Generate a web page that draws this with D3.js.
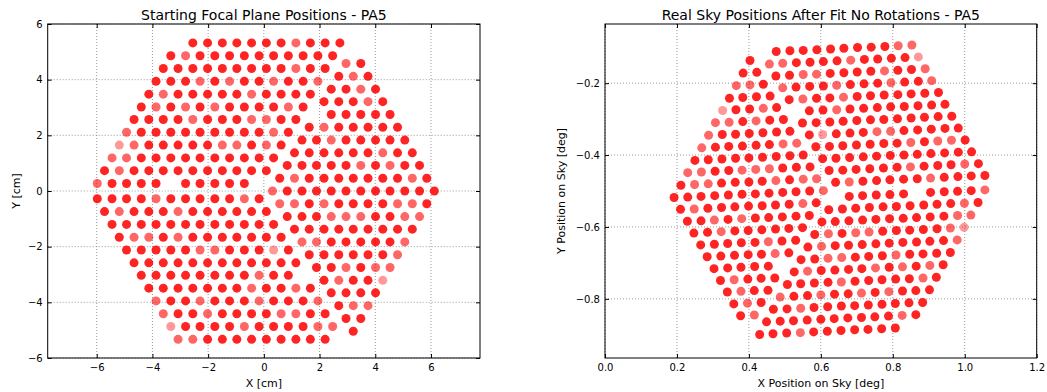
<!DOCTYPE html>
<html>
<head>
<meta charset="utf-8">
<script src="https://cdn.jsdelivr.net/npm/d3@7"></script>
<style>
  body { margin: 0; background: #fff; }
  svg text { font-family: "DejaVu Sans", sans-serif; fill: #000; }
</style>
</head>
<body>
<svg id="chart" width="1047" height="392"></svg>
<script>
// Fibre rows: upper-left block, lower-left block, right block (focal plane, cm)
const focalRowY = [
  5.32, 4.86, 4.40, 3.94, 3.48, 3.02, 2.57, 2.11, 1.65, 1.19, 0.73, 0.27,
  -0.28, -0.74, -1.20, -1.66, -2.12, -2.58, -3.03, -3.49, -3.95, -4.41, -4.87, -5.33,
  4.58, 4.12, 3.66, 3.21, 2.75, 2.29, 1.83, 1.37, 0.92, 0.46, 0.00,
  -0.46, -0.92, -1.37, -1.83, -2.29, -2.75, -3.21, -3.66, -4.12, -4.58, -5.04
];

const focalRowX = [
  [-2.55,-2.02,-1.49,-0.97,-0.44,0.09,0.62,1.15,1.67,2.20,2.73],
  [-3.34,-2.81,-2.29,-1.76,-1.23,-0.70,-0.17,0.35,0.88,1.41,1.94,2.47],
  [-3.61,-3.08,-2.55,-2.02,-1.49,-0.97,-0.44,0.09,0.62,1.15,1.67,2.20],
  [-3.87,-3.34,-2.81,-2.29,-1.76,-1.23,-0.70,-0.17,0.35,0.88,1.41,1.94],
  [-4.13,-3.61,-3.08,-2.55,-2.02,-1.49,-0.97,-0.44,0.09,0.62,1.15,1.67],
  [-4.40,-3.87,-3.34,-2.81,-2.29,-1.76,-1.23,-0.70,-0.17,0.35,0.88,1.41],
  [-4.66,-4.13,-3.61,-3.08,-2.55,-2.02,-1.49,-0.97,-0.44,0.09,0.62,1.15],
  [-4.93,-4.40,-3.87,-3.34,-2.81,-2.29,-1.76,-1.23,-0.70,-0.17,0.35,0.88],
  [-5.19,-4.66,-4.13,-3.61,-3.08,-2.55,-2.02,-1.49,-0.97,-0.44,0.09,0.62],
  [-5.45,-4.93,-4.40,-3.87,-3.34,-2.81,-2.29,-1.76,-1.23,-0.70,-0.17,0.35],
  [-5.72,-5.19,-4.66,-4.13,-3.61,-3.08,-2.55,-2.02,-1.49,-0.97,-0.44,0.09],
  [-5.98,-5.45,-4.93,-4.40,-3.87,-2.81,-2.29,-1.76,-1.23,-0.70],
  [-5.98,-5.45,-4.93,-4.40,-3.87,-3.34,-2.81,-2.29,-1.76,-1.23,-0.70,-0.17],
  [-5.72,-5.19,-4.66,-4.13,-3.61,-3.08,-2.55,-2.02,-1.49,-0.97,-0.44,0.09],
  [-5.45,-4.93,-4.40,-3.87,-3.34,-2.81,-2.29,-1.76,-1.23,-0.70,-0.17,0.35],
  [-5.19,-4.66,-4.13,-3.61,-3.08,-2.55,-2.02,-1.49,-0.97,-0.44,0.09,0.62],
  [-4.93,-4.40,-3.87,-3.34,-2.81,-2.29,-1.76,-1.23,-0.70,-0.17,0.35,0.88],
  [-4.66,-4.13,-3.61,-3.08,-2.55,-2.02,-1.49,-0.97,-0.44,0.09,0.62,1.15],
  [-4.40,-3.87,-3.34,-2.81,-2.29,-1.76,-1.23,-0.70,-0.17,0.35,0.88],
  [-4.13,-3.61,-3.08,-2.55,-2.02,-1.49,-0.97,-0.44,0.09,0.62,1.15,1.67],
  [-3.87,-3.34,-2.81,-2.29,-1.76,-1.23,-0.70,-0.17,0.35,0.88,1.41,1.94],
  [-3.61,-3.08,-2.55,-2.02,-1.49,-0.97,-0.44,0.09,0.62,1.15,1.67,2.20],
  [-3.34,-2.81,-2.29,-1.76,-1.23,-0.70,-0.17,0.35,0.88,1.41,1.94,2.47],
  [-3.08,-2.55,-2.02,-1.49,-0.97,-0.44,0.09,0.62,1.15,1.67,2.20],
  [2.95,3.48],
  [2.69,3.21,3.74],
  [2.42,2.95,3.48,4.01],
  [2.16,2.69,3.21,3.74,4.27],
  [2.42,2.95,3.48,4.01,4.53],
  [1.63,2.16,2.69,3.21,3.74,4.27,4.80],
  [1.37,1.89,2.42,2.95,3.48,4.01,4.53,5.06],
  [1.10,1.63,2.16,2.69,3.21,3.74,4.27,4.80,5.33],
  [0.84,1.37,1.89,2.42,2.95,3.48,4.01,4.53,5.06,5.59],
  [0.57,1.10,1.63,2.16,2.69,3.21,3.74,4.27,4.80,5.33,5.85],
  [0.31,0.84,1.37,1.89,2.42,2.95,3.48,4.01,4.53,5.06,5.59,6.12],
  [0.57,1.10,1.63,2.16,2.69,3.21,3.74,4.27,4.80,5.33,5.85],
  [0.84,1.37,1.89,2.42,2.95,3.48,4.01,4.53,5.06,5.59],
  [1.10,1.63,2.16,2.69,3.21,3.74,4.27,4.80,5.33],
  [1.37,1.89,2.42,2.95,3.48,4.01,4.53,5.06],
  [1.63,2.16,2.69,3.21,3.74,4.27,4.80],
  [1.89,2.42,2.95,3.48,4.01,4.53],
  [2.16,2.69,3.21,3.74,4.27],
  [2.42,2.95,3.48,4.01],
  [2.69,3.21,3.74],
  [2.95,3.48],
  [3.21]
];

// Same fibres on the sky (deg), row for row
const skyRowX = [
  [0.807,0.769,0.731,0.694,0.656,0.618,0.580,0.543,0.505,0.467,0.430],
  [0.864,0.826,0.788,0.750,0.713,0.675,0.637,0.600,0.562,0.524,0.487,0.449],
  [0.883,0.845,0.807,0.770,0.732,0.694,0.657,0.619,0.581,0.544,0.506,0.468],
  [0.902,0.864,0.827,0.789,0.751,0.713,0.676,0.638,0.600,0.563,0.525,0.487],
  [0.921,0.884,0.846,0.808,0.770,0.733,0.695,0.657,0.620,0.582,0.544,0.507],
  [0.940,0.903,0.865,0.827,0.790,0.752,0.714,0.677,0.639,0.601,0.563,0.526],
  [0.960,0.922,0.884,0.847,0.809,0.771,0.733,0.696,0.658,0.620,0.583,0.545],
  [0.979,0.941,0.903,0.866,0.828,0.790,0.753,0.715,0.677,0.640,0.602,0.564],
  [0.998,0.960,0.923,0.885,0.847,0.810,0.772,0.734,0.697,0.659,0.621,0.583],
  [1.017,0.980,0.942,0.904,0.866,0.829,0.791,0.753,0.716,0.678,0.640,0.603],
  [1.037,0.999,0.961,0.923,0.886,0.848,0.810,0.773,0.735,0.697,0.660,0.622],
  [1.056,1.018,0.980,0.943,0.905,0.830,0.792,0.754,0.716,0.679],
  [1.056,1.018,0.981,0.943,0.905,0.868,0.830,0.792,0.755,0.717,0.679,0.641],
  [1.038,1.000,0.962,0.925,0.887,0.849,0.812,0.774,0.736,0.698,0.661,0.623],
  [1.019,0.982,0.944,0.906,0.868,0.831,0.793,0.755,0.718,0.680,0.642,0.605],
  [1.001,0.963,0.925,0.888,0.850,0.812,0.775,0.737,0.699,0.661,0.624,0.586],
  [0.982,0.945,0.907,0.869,0.831,0.794,0.756,0.718,0.681,0.643,0.605,0.568],
  [0.964,0.926,0.888,0.851,0.813,0.775,0.738,0.700,0.662,0.625,0.587,0.549],
  [0.945,0.908,0.870,0.832,0.794,0.757,0.719,0.681,0.644,0.606,0.568],
  [0.927,0.889,0.851,0.814,0.776,0.738,0.701,0.663,0.625,0.588,0.550,0.512],
  [0.908,0.871,0.833,0.795,0.758,0.720,0.682,0.644,0.607,0.569,0.531,0.494],
  [0.890,0.852,0.814,0.777,0.739,0.701,0.664,0.626,0.588,0.551,0.513,0.475],
  [0.871,0.834,0.796,0.758,0.721,0.683,0.645,0.607,0.570,0.532,0.494,0.457],
  [0.853,0.815,0.778,0.740,0.702,0.664,0.627,0.589,0.551,0.514,0.476],
  [0.415,0.377],
  [0.434,0.396,0.358],
  [0.453,0.415,0.378,0.340],
  [0.472,0.434,0.397,0.359,0.321],
  [0.454,0.416,0.378,0.341,0.303],
  [0.511,0.473,0.435,0.398,0.360,0.322,0.284],
  [0.530,0.492,0.454,0.417,0.379,0.341,0.304,0.266],
  [0.549,0.511,0.474,0.436,0.398,0.361,0.323,0.285,0.247],
  [0.568,0.531,0.493,0.455,0.418,0.380,0.342,0.304,0.267,0.229],
  [0.587,0.550,0.512,0.474,0.437,0.399,0.361,0.324,0.286,0.248,0.210],
  [0.607,0.569,0.531,0.494,0.456,0.418,0.381,0.343,0.305,0.267,0.230,0.192],
  [0.588,0.551,0.513,0.475,0.437,0.400,0.362,0.324,0.287,0.249,0.211],
  [0.570,0.532,0.494,0.457,0.419,0.381,0.344,0.306,0.268,0.230],
  [0.551,0.514,0.476,0.438,0.400,0.363,0.325,0.287,0.250],
  [0.533,0.495,0.457,0.420,0.382,0.344,0.307,0.269],
  [0.514,0.477,0.439,0.401,0.363,0.326,0.288],
  [0.496,0.458,0.420,0.383,0.345,0.307],
  [0.477,0.440,0.402,0.364,0.327],
  [0.459,0.421,0.383,0.346],
  [0.440,0.403,0.365],
  [0.422,0.384],
  [0.403]
];

const skyRowY = [
  [-0.881,-0.883,-0.885,-0.886,-0.888,-0.890,-0.892,-0.894,-0.895,-0.897,-0.899],
  [-0.844,-0.846,-0.848,-0.850,-0.852,-0.853,-0.855,-0.857,-0.859,-0.861,-0.862,-0.864],
  [-0.810,-0.811,-0.813,-0.815,-0.817,-0.819,-0.820,-0.822,-0.824,-0.826,-0.828,-0.829],
  [-0.775,-0.777,-0.778,-0.780,-0.782,-0.784,-0.786,-0.787,-0.789,-0.791,-0.793,-0.795],
  [-0.740,-0.742,-0.744,-0.745,-0.747,-0.749,-0.751,-0.753,-0.754,-0.756,-0.758,-0.760],
  [-0.705,-0.707,-0.709,-0.711,-0.712,-0.714,-0.716,-0.718,-0.720,-0.721,-0.723,-0.725],
  [-0.671,-0.673,-0.675,-0.676,-0.678,-0.680,-0.682,-0.684,-0.685,-0.687,-0.689,-0.691],
  [-0.636,-0.638,-0.640,-0.642,-0.643,-0.645,-0.647,-0.649,-0.651,-0.652,-0.654,-0.656],
  [-0.601,-0.603,-0.605,-0.607,-0.609,-0.610,-0.612,-0.614,-0.616,-0.618,-0.619,-0.621],
  [-0.567,-0.568,-0.570,-0.572,-0.574,-0.576,-0.577,-0.579,-0.581,-0.583,-0.585,-0.586],
  [-0.532,-0.534,-0.535,-0.537,-0.539,-0.541,-0.543,-0.544,-0.546,-0.548,-0.550,-0.552],
  [-0.497,-0.499,-0.501,-0.502,-0.504,-0.508,-0.510,-0.511,-0.513,-0.515],
  [-0.457,-0.458,-0.460,-0.462,-0.464,-0.466,-0.467,-0.469,-0.471,-0.473,-0.475,-0.476],
  [-0.424,-0.425,-0.427,-0.429,-0.431,-0.433,-0.434,-0.436,-0.438,-0.440,-0.442,-0.443],
  [-0.391,-0.392,-0.394,-0.396,-0.398,-0.400,-0.401,-0.403,-0.405,-0.407,-0.409,-0.410],
  [-0.358,-0.359,-0.361,-0.363,-0.365,-0.367,-0.368,-0.370,-0.372,-0.374,-0.376,-0.377],
  [-0.325,-0.326,-0.328,-0.330,-0.332,-0.334,-0.335,-0.337,-0.339,-0.341,-0.343,-0.344],
  [-0.292,-0.293,-0.295,-0.297,-0.299,-0.301,-0.302,-0.304,-0.306,-0.308,-0.310,-0.311],
  [-0.259,-0.261,-0.263,-0.265,-0.266,-0.268,-0.270,-0.272,-0.274,-0.275,-0.277],
  [-0.226,-0.228,-0.230,-0.232,-0.233,-0.235,-0.237,-0.239,-0.241,-0.242,-0.244,-0.246],
  [-0.193,-0.195,-0.197,-0.199,-0.200,-0.202,-0.204,-0.206,-0.208,-0.209,-0.211,-0.213],
  [-0.160,-0.162,-0.164,-0.166,-0.167,-0.169,-0.171,-0.173,-0.175,-0.176,-0.178,-0.180],
  [-0.127,-0.129,-0.131,-0.133,-0.134,-0.136,-0.138,-0.140,-0.142,-0.143,-0.145,-0.147],
  [-0.094,-0.096,-0.098,-0.100,-0.101,-0.103,-0.105,-0.107,-0.109,-0.110,-0.112],
  [-0.845,-0.847],
  [-0.810,-0.812,-0.814],
  [-0.776,-0.777,-0.779,-0.781],
  [-0.742,-0.743,-0.745,-0.747,-0.749],
  [-0.709,-0.710,-0.712,-0.714,-0.716],
  [-0.672,-0.674,-0.676,-0.677,-0.679,-0.681,-0.683],
  [-0.637,-0.639,-0.641,-0.643,-0.644,-0.646,-0.648,-0.650],
  [-0.602,-0.604,-0.606,-0.608,-0.610,-0.611,-0.613,-0.615,-0.617],
  [-0.568,-0.570,-0.572,-0.574,-0.575,-0.577,-0.579,-0.581,-0.583,-0.584],
  [-0.533,-0.535,-0.537,-0.539,-0.541,-0.542,-0.544,-0.546,-0.548,-0.550,-0.551],
  [-0.499,-0.500,-0.502,-0.504,-0.506,-0.508,-0.509,-0.511,-0.513,-0.515,-0.517,-0.518],
  [-0.466,-0.467,-0.469,-0.471,-0.473,-0.475,-0.476,-0.478,-0.480,-0.482,-0.484],
  [-0.433,-0.434,-0.436,-0.438,-0.440,-0.442,-0.443,-0.445,-0.447,-0.449],
  [-0.400,-0.402,-0.404,-0.406,-0.408,-0.409,-0.411,-0.413,-0.415],
  [-0.367,-0.369,-0.371,-0.373,-0.375,-0.376,-0.378,-0.380],
  [-0.334,-0.336,-0.338,-0.340,-0.342,-0.343,-0.345],
  [-0.301,-0.303,-0.305,-0.307,-0.309,-0.310],
  [-0.268,-0.270,-0.272,-0.274,-0.276],
  [-0.236,-0.238,-0.240,-0.242],
  [-0.203,-0.205,-0.207],
  [-0.170,-0.172],
  [-0.137]
];

// Per-fibre shade: 0 normal, 1 faint, 2 fainter
const fiberShade = [
  "00000001000", "010000000000", "000000000100", "000101001001",
  "010000010000", "010101000010", "000010001100", "100000000010",
  "210000011010", "110000000000", "010000000000", "1000000000",
  "000010000010", "010001000000", "000000000000", "011010000000",
  "000001100020", "000000000000", "00000000100", "000000010010",
  "100100010001", "100100001100", "200001000011", "11000000000",
  "10", "010", "0010", "00010", "00000", "0100000", "00100000",
  "000000100", "0000010100", "01000000010", "100000000000",
  "11010000110", "0001110011", "000000000", "11000001", "0000001",
  "001011", "01002", "0000", "011", "00", "0"
];

const focalTicks = [-6, -4, -2, 0, 2, 4, 6];
const skyXTicks = [0.0, 0.2, 0.4, 0.6, 0.8, 1.0, 1.2];
const skyYTicks = [-0.8, -0.6, -0.4, -0.2];

const shadeOpacity = [0.86, 0.6, 0.4];
const svg = d3.select("#chart");

function drawPanel(cfg) {
  const left = cfg.left, top = cfg.top, w = cfg.width, h = cfg.height;
  const x = d3.scaleLinear().domain(cfg.xDomain).range([left, left + w]);
  const y = d3.scaleLinear().domain(cfg.yDomain).range([top + h, top]);
  const g = svg.append("g");

  // dotted grid
  g.append("g").selectAll("line").data(cfg.xTicks).join("line")
    .attr("x1", d => x(d)).attr("x2", d => x(d))
    .attr("y1", top).attr("y2", top + h)
    .attr("stroke", "#808080").attr("stroke-width", 0.8)
    .attr("stroke-dasharray", "1,2");
  g.append("g").selectAll("line").data(cfg.yTicks).join("line")
    .attr("x1", left).attr("x2", left + w)
    .attr("y1", d => y(d)).attr("y2", d => y(d))
    .attr("stroke", "#808080").attr("stroke-width", 0.8)
    .attr("stroke-dasharray", "1,2");

  // fibres
  const clipId = cfg.id + "-clip";
  g.append("clipPath").attr("id", clipId).append("rect")
    .attr("x", left).attr("y", top).attr("width", w).attr("height", h);
  g.append("g").attr("clip-path", `url(#${clipId})`)
    .selectAll("circle").data(cfg.points).join("circle")
    .attr("cx", d => x(d.x)).attr("cy", d => y(d.y)).attr("r", 4.5)
    .attr("fill", "#ff0000")
    .attr("fill-opacity", d => shadeOpacity[d.shade]);

  // axes: inward ticks on all four sides
  const styleAxis = sel => {
    sel.select(".domain").remove();
    sel.attr("font-family", null).attr("font-size", null);
    sel.selectAll(".tick line").attr("stroke", "#000");
    sel.selectAll(".tick text").attr("font-size", 10).attr("fill", "#000");
  };
  g.append("g").attr("transform", `translate(0,${top + h})`)
    .call(d3.axisBottom(x).tickValues(cfg.xTicks).tickSizeInner(-4).tickSizeOuter(0)
      .tickPadding(6).tickFormat(cfg.xFormat))
    .call(styleAxis);
  g.append("g").attr("transform", `translate(0,${top})`)
    .call(d3.axisTop(x).tickValues(cfg.xTicks).tickSizeInner(-4).tickSizeOuter(0).tickFormat(""))
    .call(styleAxis);
  g.append("g").attr("transform", `translate(${left},0)`)
    .call(d3.axisLeft(y).tickValues(cfg.yTicks).tickSizeInner(-4).tickSizeOuter(0)
      .tickPadding(5).tickFormat(cfg.yFormat))
    .call(styleAxis);
  g.append("g").attr("transform", `translate(${left + w},0)`)
    .call(d3.axisRight(y).tickValues(cfg.yTicks).tickSizeInner(-4).tickSizeOuter(0).tickFormat(""))
    .call(styleAxis);

  // frame
  g.append("rect").attr("x", left).attr("y", top).attr("width", w).attr("height", h)
    .attr("fill", "none").attr("stroke", "#000").attr("stroke-width", 1);

  // title and axis labels
  g.append("text").attr("x", left + w / 2).attr("y", 19.5)
    .attr("text-anchor", "middle").attr("font-size", 14).text(cfg.title);
  g.append("text").attr("x", left + w / 2).attr("y", 387)
    .attr("text-anchor", "middle").attr("font-size", 11).text(cfg.xLabel);
  g.append("text")
    .attr("transform", `translate(${cfg.yLabelX},${top + h / 2}) rotate(-90)`)
    .attr("text-anchor", "middle").attr("font-size", 11).text(cfg.yLabel);
}

function collect(rowsX, rowsY) {
  const pts = [];
  rowsX.forEach((row, i) => {
    row.forEach((xv, j) => {
      const yv = Array.isArray(rowsY[i]) ? rowsY[i][j] : rowsY[i];
      pts.push({ x: xv, y: yv, shade: +(fiberShade[i][j] || 0) });
    });
  });
  return pts;
}

const minusInt = d => (d < 0 ? "\u2212" + Math.abs(d) : String(d));

drawPanel({
  id: "focal",
  left: 47.7, top: 24, width: 432.3, height: 334,
  xDomain: [-7.76, 7.76], yDomain: [-6, 6],
  xTicks: focalTicks, yTicks: focalTicks,
  xFormat: minusInt, yFormat: minusInt,
  title: "Starting Focal Plane Positions - PA5",
  xLabel: "X [cm]", yLabel: "Y [cm]", yLabelX: 20,
  points: collect(focalRowX, focalRowY)
});

drawPanel({
  id: "sky",
  left: 605, top: 24, width: 431.7, height: 334,
  xDomain: [0, 1.2], yDomain: [-0.9645, -0.0355],
  xTicks: skyXTicks, yTicks: skyYTicks,
  xFormat: d3.format(".1f"), yFormat: d3.format(".1f"),
  title: "Real Sky Positions After Fit No Rotations - PA5",
  xLabel: "X Position on Sky [deg]", yLabel: "Y Position on Sky [deg]", yLabelX: 565,
  points: collect(skyRowX, skyRowY)
});
</script>
</body>
</html>
